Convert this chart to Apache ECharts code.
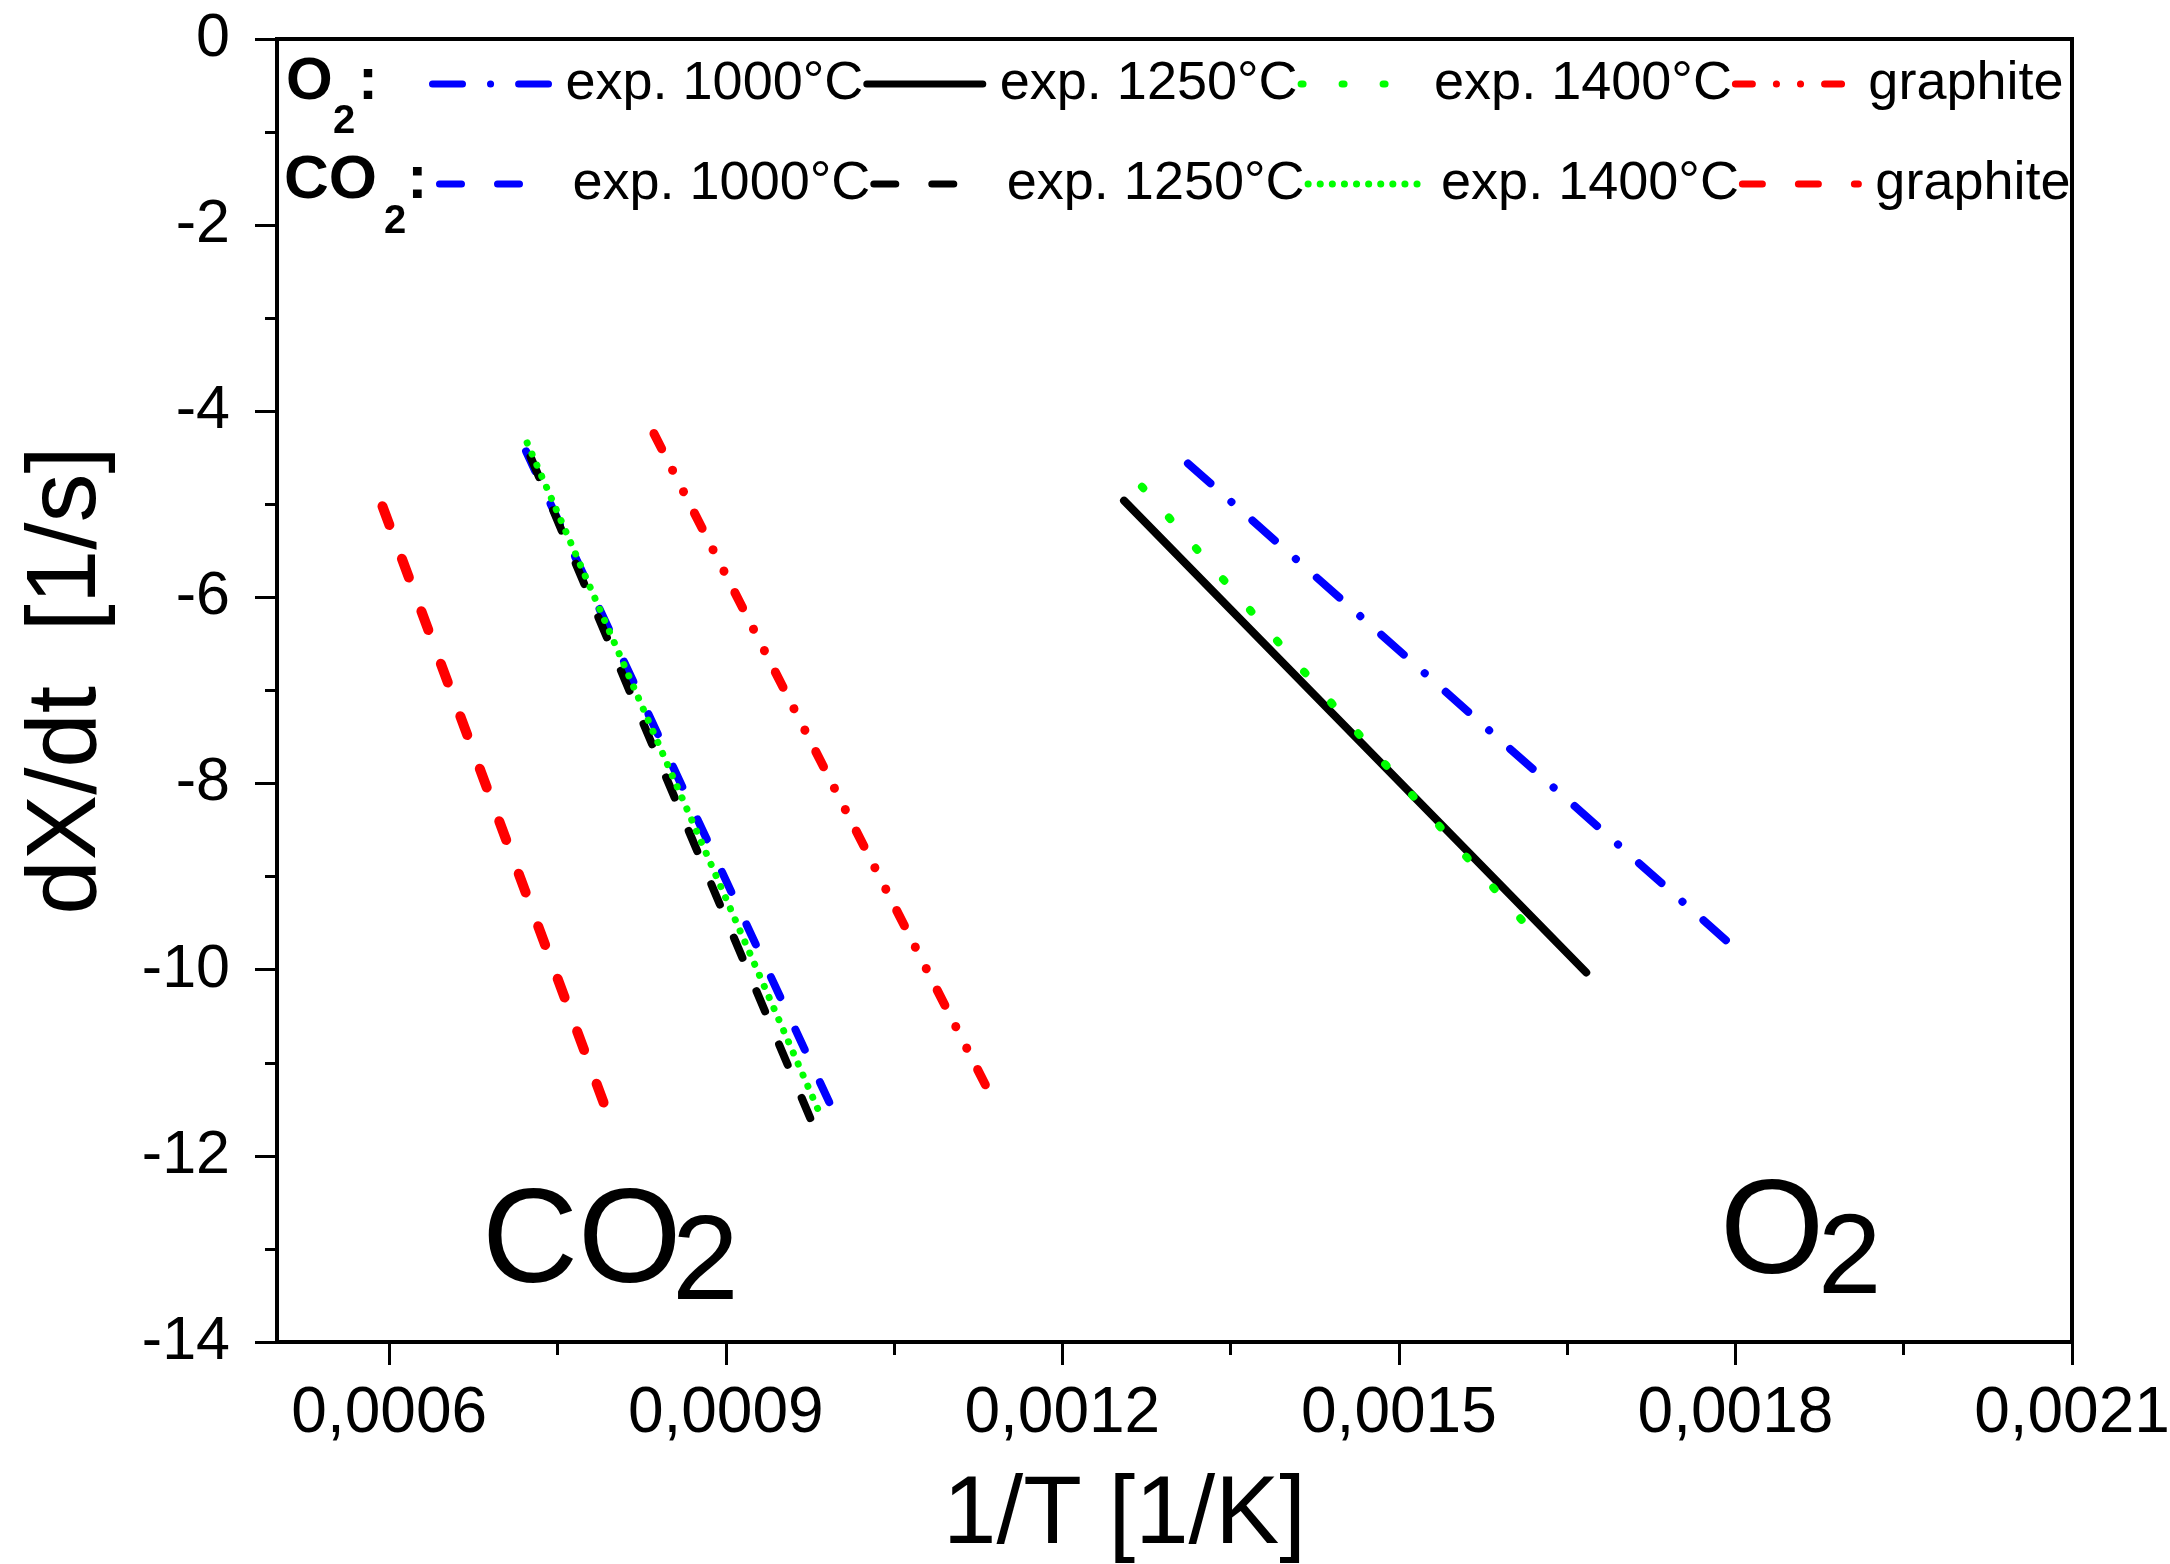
<!DOCTYPE html>
<html>
<head>
<meta charset="utf-8">
<script src="https://cdn.jsdelivr.net/npm/echarts@6/dist/echarts.min.js"></script>
<style>
  * { padding: 0; margin: 0; }
  #chart { width: 2170px; height: 1564px; background: #fff; }
</style>
</head>
<body>
<div id="chart"></div>
<script>
// fitted Arrhenius lines, [1/T, dX/dt] at start and end
const o2Exp1000 = [[0.001312, -4.56], [0.001795, -9.72]];
const o2Exp1250 = [[0.001255, -4.96], [0.001667, -10.03]];
const o2Exp1400 = [[0.001271, -4.81], [0.001628, -9.72]];
const o2Graphite = [[0.000836, -4.24], [0.001132, -11.25]];
const co2Exp1000 = [[0.000722, -4.43], [0.001001, -11.65]];
const co2Exp1250 = [[0.000726, -4.49], [0.000979, -11.70]];
const co2Exp1400 = [[0.000723, -4.34], [0.000984, -11.55]];
const co2Graphite = [[0.000594, -5.02], [0.000797, -11.62]];

const o2Names = ['O2 exp. 1000°C', 'O2 exp. 1250°C', 'O2 exp. 1400°C', 'O2 graphite'];
const co2Names = ['CO2 exp. 1000°C', 'CO2 exp. 1250°C', 'CO2 exp. 1400°C', 'CO2 graphite'];

// x ticks: labels every 0.0003, small ticks in between
const xMajorTicks = [0.0006, 0.0009, 0.0012, 0.0015, 0.0018, 0.0021];
const xMinorTicks = [0.00075, 0.00105, 0.00135, 0.00165, 0.00195];

const FONT = "'Liberation Sans', Arial, sans-serif";
const BLUE = '#0000ff', GREEN = '#00ff00', RED = '#ff0000', BLACK = '#000000';

function line(name, data, color, width, type) {
  return {
    name: name,
    type: 'line',
    data: data,
    symbol: 'none',
    silent: true,
    lineStyle: { color: color, width: width, type: type, cap: 'round' },
    itemStyle: { color: color }
  };
}

let chart = echarts.init(document.getElementById('chart'));

function legendRow(names, top, left) {
  return {
    data: names,
    top: top,
    left: left,
    padding: 0,
    itemWidth: 116,
    itemHeight: 20,
    itemGap: 0,
    selectedMode: false,
    itemStyle: { opacity: 0 },
    lineStyle: { width: 7, cap: 'round' },
    formatter: n => n.replace(/^C?O2 /, ''),
    textStyle: { fontFamily: FONT, fontSize: 54, color: BLACK, padding: [0, 0, 0, 12] }
  };
}

function txt(s, x, y, size, bold) {
  return {
    type: 'text', x: x, y: y, silent: true,
    style: {
      text: s, fill: BLACK, font: (bold ? 'bold ' : '') + size + 'px ' + FONT,
      textAlign: 'left', textVerticalAlign: 'middle'
    }
  };
}

chart.setOption({
  animation: false,
  backgroundColor: '#fff',
  grid: {
    left: 277, right: 98, top: 39, bottom: 222,
    outerBoundsMode: 'none',
    containLabel: false,
    show: true, borderColor: BLACK, borderWidth: 4
  },
  legend: [legendRow(o2Names, 57, 429), legendRow(co2Names, 157, 436)],
  xAxis: [{
    type: 'value',
    position: 'bottom',
    min: 0.0005, max: 0.0021,
    name: '1/T [1/K]',
    nameLocation: 'middle',
    nameGap: 127,
    nameTextStyle: { fontFamily: FONT, fontSize: 96, color: BLACK, padding: [0, 100, 0, 0] },
    axisLine: { onZero: false, lineStyle: { color: BLACK, width: 4 } },
    axisTick: { show: true, customValues: xMajorTicks, length: 23, lineStyle: { width: 3, color: BLACK } },
    axisLabel: {
      customValues: xMajorTicks,
      margin: 40,
      fontFamily: FONT, fontSize: 64, color: BLACK,
      formatter: v => v.toFixed(4).replace('.', ',')
    },
    splitLine: { show: false }
  }, {
    // second copy of the bottom axis, only for the small ticks
    type: 'value',
    position: 'bottom',
    min: 0.0005, max: 0.0021,
    axisLine: { show: false, onZero: false },
    axisTick: { customValues: xMinorTicks, length: 13, lineStyle: { width: 3, color: BLACK } },
    axisLabel: { show: false },
    splitLine: { show: false }
  }],
  yAxis: {
    type: 'value',
    min: -14, max: 0, interval: 2,
    name: 'dX/dt  [1/s]',
    nameLocation: 'middle',
    nameGap: 160,
    nameTextStyle: { fontFamily: FONT, fontSize: 98, color: BLACK, padding: [0, 0, 0, 20] },
    axisLine: { onZero: false, lineStyle: { color: BLACK, width: 4 } },
    axisTick: { length: 22, lineStyle: { width: 3, color: BLACK } },
    minorTick: { show: true, splitNumber: 2, length: 12, lineStyle: { width: 3, color: BLACK } },
    axisLabel: { margin: 47, fontFamily: FONT, fontSize: 61, color: BLACK },
    splitLine: { show: false }
  },
  graphic: [
    txt('O', 286, 82, 60, true), txt('2', 333, 122, 40, true), txt(':', 358, 82, 60, true),
    txt('CO', 284, 181, 62, true), txt('2', 384, 222, 40, true), txt(':', 407, 181, 62, true),
    txt('CO', 482, 1245, 133, false), txt('2', 672, 1266, 120, false),
    txt('O', 1720, 1236, 134, false), txt('2', 1818, 1262, 114, false)
  ],
  series: [
    line(o2Names[0], o2Exp1000, BLUE, 8, [30, 28, 0.1, 28]),
    line(o2Names[1], o2Exp1250, BLACK, 8, 'solid'),
    line(o2Names[2], o2Exp1400, GREEN, 8, [2, 39]),
    line(o2Names[3], o2Graphite, RED, 9, [17, 24, 0.1, 24, 0.1, 24]),
    line(co2Names[0], co2Exp1000, BLUE, 8, [22, 36]),
    line(co2Names[1], co2Exp1250, BLACK, 8, [22, 36]),
    line(co2Names[2], co2Exp1400, GREEN, 7, [0.1, 12]),
    line(co2Names[3], co2Graphite, RED, 10, [20, 36])
  ]
});
</script>
</body>
</html>
